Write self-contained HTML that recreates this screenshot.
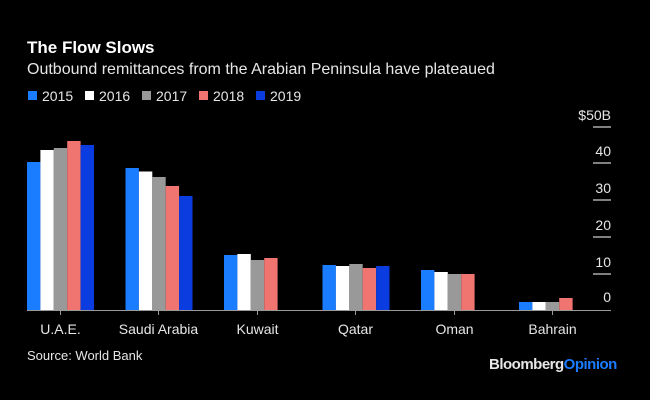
<!DOCTYPE html>
<html><head><style>
body{margin:0;background:#000;}
svg{display:block;font-family:"Liberation Sans",sans-serif;}
</style></head><body>
<svg width="650" height="400" viewBox="0 0 650 400">
<rect width="650" height="400" fill="#000"/>
<text x="27" y="53" fill="#fff" font-size="17" font-weight="bold">The Flow Slows</text>
<text x="27" y="74" fill="#e6e6e6" font-size="16">Outbound remittances from the Arabian Peninsula have plateaued</text>
<g font-size="14" fill="#e6e6e6">
<rect x="28" y="91" width="9" height="9" fill="#1a7cff"/><text x="42" y="101">2015</text>
<rect x="85" y="91" width="9" height="9" fill="#fff"/><text x="99" y="101">2016</text>
<rect x="142" y="91" width="9" height="9" fill="#999"/><text x="156" y="101">2017</text>
<rect x="199" y="91" width="9" height="9" fill="#f07470"/><text x="213" y="101">2018</text>
<rect x="256" y="91" width="9" height="9" fill="#0a3ce0"/><text x="270" y="101">2019</text>
</g>
<g stroke="#ccc" stroke-width="1.2">
<line x1="593" x2="611" y1="127" y2="127"/>
<line x1="593" x2="611" y1="163" y2="163"/>
<line x1="593" x2="611" y1="200" y2="200"/>
<line x1="593" x2="611" y1="237" y2="237"/>
<line x1="593" x2="611" y1="274" y2="274"/>
</g>
<g font-size="14" fill="#e6e6e6" text-anchor="end">
<text x="611" y="120">$50B</text>
<text x="611" y="156">40</text>
<text x="611" y="193">30</text>
<text x="611" y="230">20</text>
<text x="611" y="267">10</text>
<text x="611" y="302">0</text>
</g>
<g>
<rect x="27" y="162" width="13.4" height="148" fill="#1a7cff"/>
<rect x="40.4" y="150" width="13.4" height="160" fill="#fff"/>
<rect x="53.8" y="148" width="13.4" height="162" fill="#999"/>
<rect x="67.2" y="141" width="13.4" height="169" fill="#f07470"/>
<rect x="80.6" y="145" width="13.4" height="165" fill="#0a3ce0"/>

<rect x="125.5" y="168" width="13.4" height="142" fill="#1a7cff"/>
<rect x="138.9" y="171.5" width="13.4" height="138.5" fill="#fff"/>
<rect x="152.3" y="177" width="13.4" height="133" fill="#999"/>
<rect x="165.7" y="186" width="13.4" height="124" fill="#f07470"/>
<rect x="179.1" y="196" width="13.4" height="114" fill="#0a3ce0"/>

<rect x="224" y="255" width="13.4" height="55" fill="#1a7cff"/>
<rect x="237.4" y="254" width="13.4" height="56" fill="#fff"/>
<rect x="250.8" y="260" width="13.4" height="50" fill="#999"/>
<rect x="264.2" y="258" width="13.4" height="52" fill="#f07470"/>

<rect x="322.5" y="265" width="13.4" height="45" fill="#1a7cff"/>
<rect x="335.9" y="266" width="13.4" height="44" fill="#fff"/>
<rect x="349.3" y="264" width="13.4" height="46" fill="#999"/>
<rect x="362.7" y="268" width="13.4" height="42" fill="#f07470"/>
<rect x="376.1" y="266" width="13.4" height="44" fill="#0a3ce0"/>

<rect x="421" y="270" width="13.4" height="40" fill="#1a7cff"/>
<rect x="434.4" y="272" width="13.4" height="38" fill="#fff"/>
<rect x="447.8" y="274" width="13.4" height="36" fill="#999"/>
<rect x="461.2" y="274" width="13.4" height="36" fill="#f07470"/>

<rect x="519" y="302" width="13.4" height="8" fill="#1a7cff"/>
<rect x="532.4" y="302" width="13.4" height="8" fill="#fff"/>
<rect x="545.8" y="302" width="13.4" height="8" fill="#999"/>
<rect x="559.2" y="298" width="13.4" height="12" fill="#f07470"/>
</g>
<line x1="27" x2="611" y1="310.5" y2="310.5" stroke="#999" stroke-width="1"/>
<g stroke="#999" stroke-width="1">
<line x1="60.5" x2="60.5" y1="310" y2="315"/>
<line x1="158.5" x2="158.5" y1="310" y2="315"/>
<line x1="257.5" x2="257.5" y1="310" y2="315"/>
<line x1="355.5" x2="355.5" y1="310" y2="315"/>
<line x1="454.5" x2="454.5" y1="310" y2="315"/>
<line x1="552.5" x2="552.5" y1="310" y2="315"/>
</g>
<g font-size="14" fill="#e6e6e6" text-anchor="middle">
<text x="60.5" y="334">U.A.E.</text>
<text x="158.5" y="334">Saudi Arabia</text>
<text x="257.5" y="334">Kuwait</text>
<text x="355.5" y="334">Qatar</text>
<text x="454.5" y="334">Oman</text>
<text x="552.5" y="334">Bahrain</text>
</g>
<text x="27" y="360" font-size="13" fill="#e6e6e6">Source: World Bank</text>
<text x="489" y="369" font-size="15" font-weight="bold" fill="#e6e6e6" letter-spacing="-0.5">Bloomberg<tspan fill="#1a7cff">Opinion</tspan></text>
</svg>
</body></html>
